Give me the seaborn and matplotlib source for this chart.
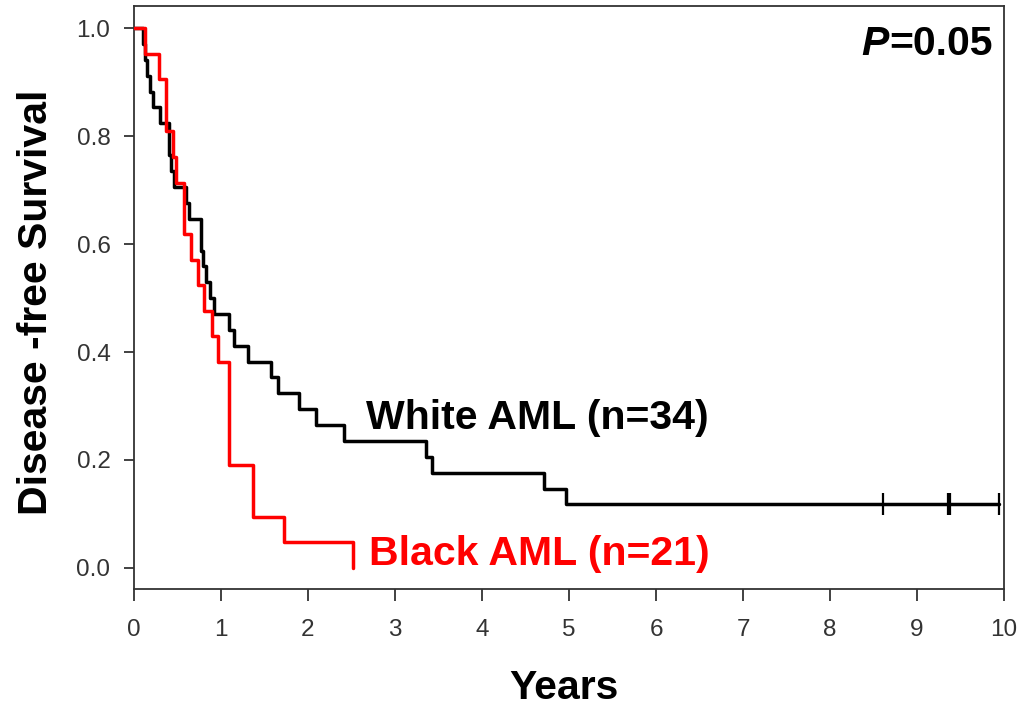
import matplotlib
matplotlib.use("Agg")
import matplotlib.pyplot as plt
import seaborn as sns
import pandas as pd

# ---- data ----
white_time = [0.0, 0.10, 0.13, 0.15, 0.18, 0.22, 0.30, 0.40, 0.43, 0.46, 0.60, 0.63,
              0.77, 0.79, 0.83, 0.87, 0.92, 1.09, 1.15, 1.31, 1.57, 1.66, 1.90, 2.09,
              2.41, 3.36, 3.43, 4.71, 4.97, 9.94]
white_surv = [1.000, 0.971, 0.941, 0.912, 0.882, 0.853, 0.824, 0.765, 0.735, 0.706, 0.676, 0.647,
              0.588, 0.559, 0.529, 0.500, 0.471, 0.441, 0.412, 0.382, 0.353, 0.324, 0.294, 0.265,
              0.235, 0.206, 0.176, 0.147, 0.118, 0.118]
white_cens_time = [8.61, 9.36, 9.38, 9.94]
white_cens_surv = [0.118, 0.118, 0.118, 0.118]

black_time = [0.0, 0.13, 0.29, 0.37, 0.45, 0.48, 0.575, 0.66, 0.73, 0.80, 0.90, 0.97,
              1.09, 1.37, 1.72, 2.52]
black_surv = [1.000, 0.952, 0.905, 0.810, 0.762, 0.714, 0.619, 0.571, 0.524, 0.476, 0.429, 0.381,
              0.190, 0.095, 0.048, 0.000]

x_ticks = [0, 1, 2, 3, 4, 5, 6, 7, 8, 9, 10]
y_ticks = [0.0, 0.2, 0.4, 0.6, 0.8, 1.0]
y_tick_labels = ["0.0", "0.2", "0.4", "0.6", "0.8", "1.0"]

white_label = "White AML (n=34)"
black_label = "Black AML (n=21)"
p_label = "=0.05"

df_white = pd.DataFrame({"Years": white_time, "Survival": white_surv})
df_black = pd.DataFrame({"Years": black_time, "Survival": black_surv})
df_cens = pd.DataFrame({"Years": white_cens_time, "Survival": white_cens_surv})

sns.set_theme(style="ticks")
plt.rcParams["font.family"] = ["Liberation Sans", "DejaVu Sans"]

BIG = 29.5

fig = plt.figure(figsize=(10.22, 7.05), dpi=100)
ax = fig.add_axes([134 / 1022, 1 - 589 / 705, (1004 - 134) / 1022, (589 - 6) / 705])

sns.lineplot(data=df_white, x="Years", y="Survival", drawstyle="steps-post",
             estimator=None, color="black", linewidth=2.5, ax=ax)
sns.scatterplot(data=df_cens, x="Years", y="Survival", marker="|", s=260,
                color="black", linewidth=1.6, ax=ax, zorder=3)
sns.lineplot(data=df_black, x="Years", y="Survival", drawstyle="steps-post",
             estimator=None, color="#ff0000", linewidth=2.5, ax=ax, zorder=4)

ax.set_xlim(0, 10)
ax.set_ylim(-0.039, 1.041)
ax.set_xticks(x_ticks)
ax.set_yticks(y_ticks)
ax.set_yticklabels(y_tick_labels)
ax.tick_params(axis="both", direction="out", width=1.3, color="#333333",
               labelsize=17.5, labelcolor="#333333")
ax.tick_params(axis="x", length=8.6, pad=13)
ax.tick_params(axis="y", length=7.5, pad=9.5)
for s in ax.spines.values():
    s.set_linewidth(1.3)
    s.set_color("#333333")

ax.set_xlabel("Years", fontsize=BIG, fontweight="bold", color="black")
ax.set_ylabel("Disease -free Survival", fontsize=BIG, fontweight="bold", color="black")
ax.xaxis.set_label_coords(0.494, -0.137)
ax.yaxis.set_label_coords(-0.091, 0.492)

ax.text(2.668, 0.257, white_label, fontsize=BIG, fontweight="bold", color="black",
        ha="left", va="baseline")
ax.text(2.70, 0.0055, black_label, fontsize=BIG, fontweight="bold", color="#ff0000",
        ha="left", va="baseline")
eq = ax.text(9.866, 0.950, p_label, fontsize=BIG, fontweight="bold", color="black",
             ha="right", va="baseline")

# italic P placed just left of "=0.05"
fig.canvas.draw()
renderer = fig.canvas.get_renderer()
bb = eq.get_window_extent(renderer)
x0 = ax.transData.inverted().transform((bb.x0, bb.y0))[0]
ax.text(x0, 0.950, "P", fontsize=BIG, fontweight="bold", fontstyle="italic",
        color="black", ha="right", va="baseline")

fig.savefig("out.png", dpi=100)
